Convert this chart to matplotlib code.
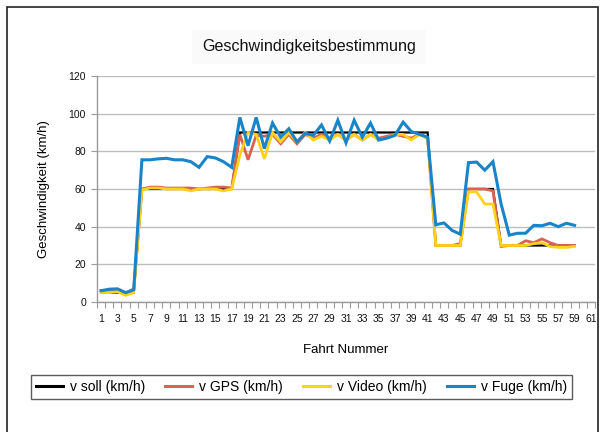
import matplotlib
matplotlib.use("Agg")
import matplotlib.pyplot as plt
from matplotlib.patches import Rectangle
import numpy as np

plt.rcParams['font.family'] = ['Liberation Sans', 'DejaVu Sans']

fahrt = list(range(1, 60))

v_soll = [5] * 5 + [60] * 12 + [90] * 24 + [30] * 4 + [60] * 4 + [30] * 10

v_gps = [6, 6, 6.5, 4.5, 7,
         60, 61, 61, 60.5, 60.5, 60.5, 60.5, 60, 60.5, 61, 61, 60.5,
         89, 75.5, 88.5, 88,
         89, 84, 89, 84, 89, 87, 89, 87, 89, 86, 89, 86, 89, 87, 88, 89, 88, 87, 89, 87,
         30, 30, 30, 31,
         60, 60, 60, 59,
         29.5, 30, 30, 32.5, 31.5, 33.5, 31.5, 30, 30, 30]

v_video = [5, 5, 5.5, 3.5, 5,
           59.5, 60.5, 60.5, 60, 60, 60, 59, 60, 60, 60, 59, 60,
           78, 90, 89, 76,
           90, 85, 90, 85, 90, 86, 88, 86, 89, 86, 89, 86, 89, 86, 87, 89, 89, 86, 89, 87,
           30, 30, 30, 30,
           58.5, 58.5, 52, 52,
           30, 30, 30, 30, 31, 31.5, 29.5, 29, 29, 29.5]

v_fuge = [6, 6.8, 7, 5, 6.5,
          75.5, 75.5, 76, 76.3, 75.5, 75.5, 74.5, 71.5, 77.2, 76.5, 74.5, 71.5,
          98, 83, 98, 81.5,
          95, 87.5, 92, 85, 89.5, 88.5, 94, 85.5, 96.5, 84.5, 96.5, 87.5, 95, 86, 87, 88.5, 95.5, 90.5, 89, 87.5,
          41, 42, 38, 36,
          74, 74.3, 70, 74.5,
          52, 35.5, 36.5, 36.5, 40.7, 40.5, 41.8, 40, 41.8, 40.7]

x_labels = list(range(1, 62, 2))
y_ticks = list(range(0, 121, 20))

series = [
    ("v soll (km/h)", v_soll, "#000000", 1.6),
    ("v GPS (km/h)", v_gps, "#d9634f", 2.0),
    ("v Video (km/h)", v_video, "#ffd21a", 2.0),
    ("v Fuge (km/h)", v_fuge, "#1a84c8", 2.2),
]

fig = plt.figure(figsize=(6.03, 4.32), dpi=100)
fig.patch.set_facecolor("white")

W, H = 603.0, 432.0
ax = fig.add_axes([97 / W, 1 - 302 / H, (595 - 97) / W, (302 - 76) / H])

for label, vals, color, lw in series:
    ax.plot(fahrt, vals, color=color, lw=lw, label=label, solid_joinstyle="miter")

ax.set_xlim(0.5, 61.5)
ax.set_ylim(0, 120)
ax.set_yticks(y_ticks)
ax.yaxis.grid(True, color="#bdbdbd", lw=1.0)
ax.set_axisbelow(True)

ax.set_xticks(x_labels)
ax.set_xticklabels([str(v) for v in x_labels])
ax.tick_params(axis="x", length=0, labelsize=7.5, pad=9, colors="#111111")
ax.set_xticks(np.arange(0.5, 62, 1.0), minor=True)
ax.tick_params(axis="x", which="minor", length=4, color="#9a9a9a", width=0.8)
ax.tick_params(axis="y", length=4, color="#9a9a9a", width=0.8, labelsize=7.5, pad=4,
               labelcolor="#111111")

for side in ("top", "right"):
    ax.spines[side].set_visible(False)
for side in ("left", "bottom"):
    ax.spines[side].set_color("#9a9a9a")
    ax.spines[side].set_linewidth(1.0)

ax.set_xlabel("Fahrt Nummer", fontsize=9.5, labelpad=14)
ax.set_ylabel("Geschwindigkeit (km/h)", fontsize=9.5, labelpad=13)

fig.text(309 / W, 1 - 47 / H, "Geschwindigkeitsbestimmung", ha="center", va="center",
         fontsize=11.6, color="#111111",
         bbox=dict(boxstyle="square,pad=0.6", facecolor="#fafafa", edgecolor="none"))

leg = fig.legend(loc="center", bbox_to_anchor=(301.5 / W, 1 - 387 / H), ncol=4,
                 fontsize=10, frameon=True, fancybox=False, handlelength=1.95,
                 columnspacing=1.45, handletextpad=0.5, borderpad=0.35)
leg.get_frame().set_edgecolor("#333333")
leg.get_frame().set_linewidth(1.0)
for line in leg.get_lines():
    line.set_linewidth(2.2)

fig.add_artist(Rectangle((7 / W, -0.05), (598 - 7) / W, 1.05 - 7 / H,
                         transform=fig.transFigure, fill=False,
                         edgecolor="#222222", lw=1.2))

fig.savefig("out.png", dpi=100)
